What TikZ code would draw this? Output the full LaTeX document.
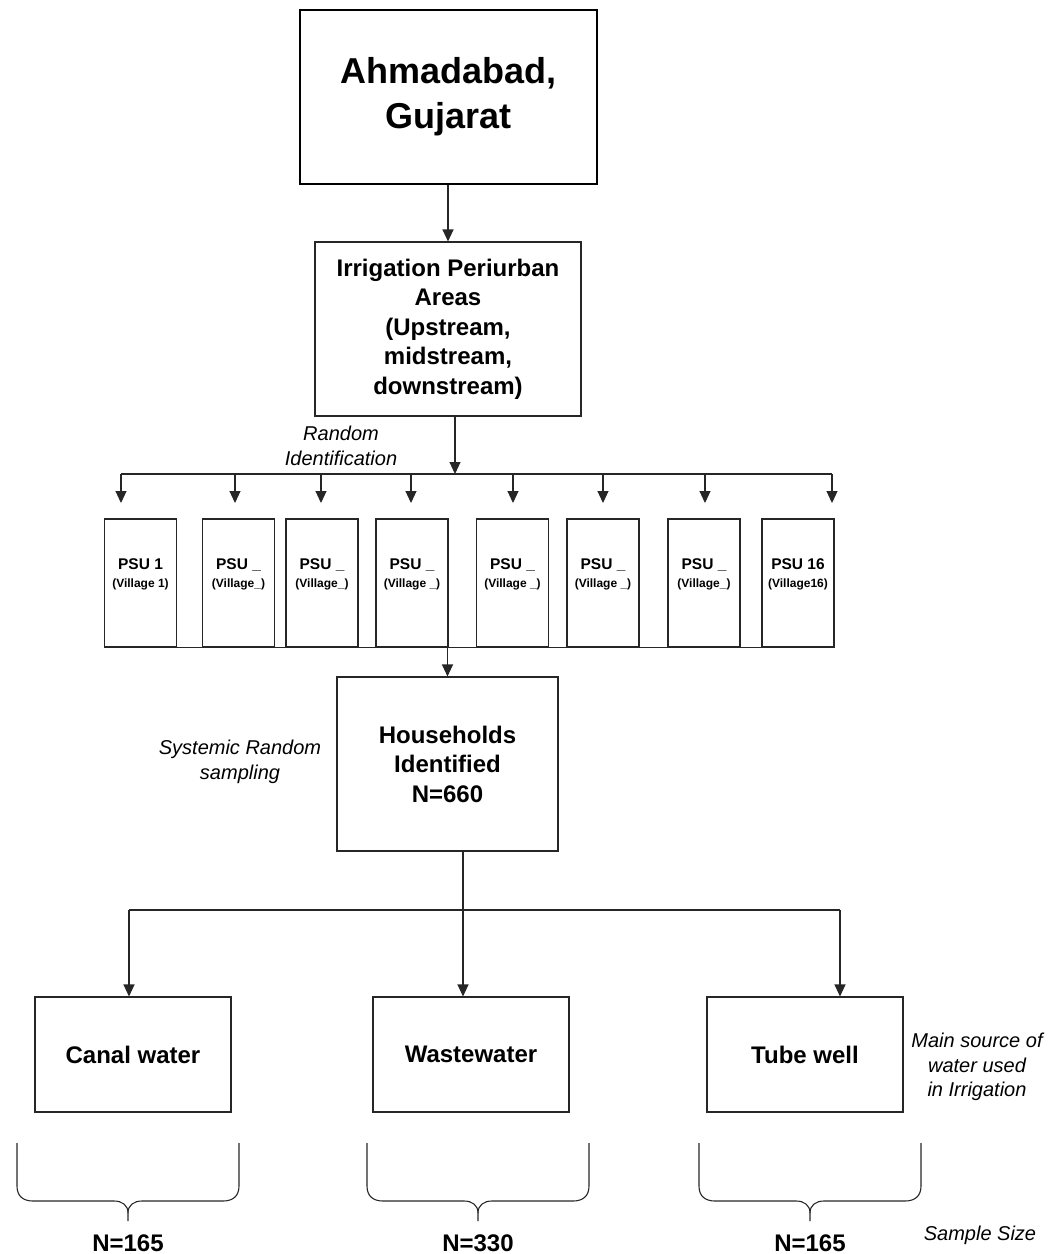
\documentclass[tikz,border=0pt]{standalone}
\usepackage{fontspec}
\setmainfont{Liberation Sans}
\usetikzlibrary{arrows.meta,calc}
\begin{document}
\begin{tikzpicture}[x=1pt,y=-1pt,
  line/.style={draw=black!85, line width=1.1pt},
  arr/.style={line, -{Triangle[width=11pt,length=12pt]}},
  box/.style={line, inner sep=0pt, align=center, font=\bfseries\fontsize{24}{29.5}\selectfont},
  topbox/.style={draw=black, line width=2.2pt, inner sep=0pt, align=center, font=\bfseries\fontsize{36}{45}\selectfont},
  psubox/.style={line, inner sep=0pt, minimum width=72pt, minimum height=128pt},
  psutext/.style={inner sep=0pt, align=center, font=\bfseries\fontsize{15.5}{21}\selectfont},
  note/.style={inner sep=0pt, align=center, font=\itshape\fontsize{20}{24.5}\selectfont},
  ntext/.style={inner sep=0pt, font=\bfseries\fontsize{24}{29}\selectfont},
  brace/.style={draw=black!85, line width=1.1pt}
]
\useasboundingbox (0,0) rectangle (1064,1254);

% top box
\node[topbox, minimum width=297pt, minimum height=174pt] (top) at (448.5,97) {Ahmadabad,\\Gujarat};
% periurban box
\node[box, minimum width=266pt, minimum height=174pt] (peri) at (448,329)
  {Irrigation Periurban\\Areas\\(Upstream,\\midstream,\\downstream)};
\draw[arr] (top.south -| peri.north) -- (peri.north);

% random identification
\node[note] (rid) at (341,446) {Random\\Identification};

% PSU boxes
\foreach \n/\cx/\ax/\t/\v in {1/140.5/121/PSU 1/(Village 1),
                          2/238.5/235/PSU \_/(Village\_),
                          3/322/321/PSU \_/(Village\_),
                          4/412/411/PSU \_/(Village \_),
                          5/512.5/513/PSU \_/(Village \_),
                          6/603/603/PSU \_/(Village \_),
                          7/704/705/PSU \_/(Village\_),
                          8/798/832/PSU 16/(Village16)}{
  \node[psubox] (p\n) at (\cx,583) {};
  \node[psutext] (pt\n) at (\cx,574.5) {\t\\[-3pt]{\fontsize{12}{14}\selectfont\v}};
  \coordinate (b\n) at (\ax,474);
  \coordinate (e\n) at (\ax,503);
  \draw[arr] (b\n) -- (e\n);
}
\coordinate (busmid) at (455,474);
\draw[line] (b1) -- (b8);
\draw[arr] (peri.south -| busmid) -- (busmid);
% baseline under PSU boxes
\draw[line] (p1.south west) -- (p8.south east);

% households
\node[box, minimum width=221pt, minimum height=174pt] (hh) at (447.5,764)
  {Households\\Identified\\N=660};
\draw[arr] (hh.north |- p4.south) -- (hh.north);
\node[note] (srs) at (240,762) {Systemic Random\\sampling};

% bottom boxes
\node[box, minimum width=196pt, minimum height=115pt] (canal) at (133,1054.5) {Canal water};
\node[box, minimum width=196pt, minimum height=115pt] (waste) at (471,1054.5) {Wastewater};
\node[box, minimum width=196pt, minimum height=115pt] (tube) at (805,1054.5) {Tube well};

\coordinate (hhout) at (463,851);
\coordinate (c1) at (129,910);
\coordinate (c2) at (463,910);
\coordinate (c3) at (840,910);
\draw[line] (hhout) -- (c2);
\draw[line] (c1) -- (c3);
\draw[arr] (c1) -- (c1 |- canal.north);
\draw[arr] (c2) -- (c2 |- waste.north);
\draw[arr] (c3) -- (c3 |- tube.north);

\node[note] (msrc) at (977,1067) {Main source of\\water used\\in Irrigation};

% braces
\foreach \l/\c/\r/\nm in {17/128/239/1, 367/478/589/2, 699/810/921/3}{
  \draw[brace] (\l,1143) -- (\l,1186) .. controls (\l,1196) and (\l+6,1201) .. (\l+16,1201)
     -- (\c-14,1201) .. controls (\c-6,1201) and (\c,1205) .. (\c,1213) -- (\c,1221);
  \draw[brace] (\r,1143) -- (\r,1186) .. controls (\r,1196) and (\r-6,1201) .. (\r-16,1201)
     -- (\c+14,1201) .. controls (\c+6,1201) and (\c,1205) .. (\c,1213);
  \coordinate (tip\nm) at (\c,1243);
}
\node[ntext] (n1) at (tip1) {N=165};
\node[ntext] (n2) at (tip2) {N=330};
\node[ntext] (n3) at (tip3) {N=165};
\node[note] (ss) at (980,1235) {Sample Size};
\end{tikzpicture}
\end{document}
